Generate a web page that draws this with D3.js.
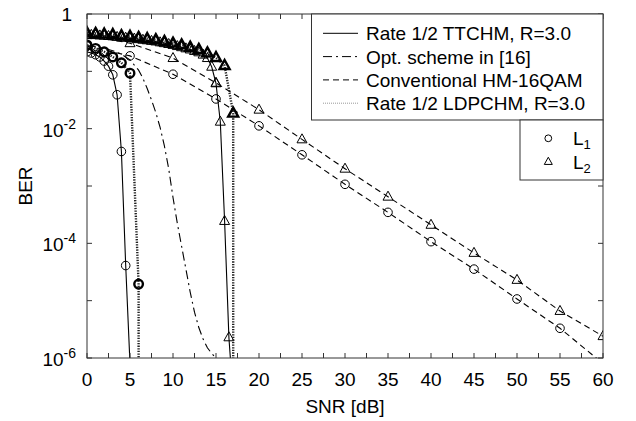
<!DOCTYPE html>
<html>
<head>
<meta charset="utf-8">
<script src="https://cdn.jsdelivr.net/npm/d3@7/dist/d3.min.js"></script>
<style>
  html, body { margin: 0; padding: 0; background: #fff; }
  svg { display: block; font-family: "Liberation Sans", Arial, Helvetica, sans-serif; }
</style>
</head>
<body>
<svg id="chart" width="636" height="421"></svg>
<script>
// ---------------- data ----------------
const snrConv = [0, 5, 10, 15, 20, 25, 30, 35, 40, 45, 50, 55, 60];
const convL1 = [0.275, 0.186, 0.089, 0.033, 0.0112, 3.5e-3, 1.07e-3, 3.47e-4, 1.07e-4, 3.55e-5, 1.07e-5, 3.3e-6, 8e-7];
const convL2 = [0.427, 0.309, 0.17, 0.063, 0.0214, 6.5e-3, 2.0e-3, 6.5e-4, 2.1e-4, 6.8e-5, 2.3e-5, 6.6e-6, 2.4e-6];

const snrTtchmL1 = [0, 0.5, 1, 1.5, 2, 2.5, 3, 3.5, 4, 4.5, 5];
const ttchmL1 = [0.219, 0.209, 0.195, 0.178, 0.151, 0.123, 0.087, 0.039, 4.0e-3, 4.1e-5, 7.9e-7];

const snrTtchmL2 = [0, 0.5, 1, 1.5, 2, 2.5, 3, 3.5, 4, 4.5, 5, 5.5, 6, 6.5, 7, 7.5, 8, 8.5,
                    9, 9.5, 10, 10.5, 11, 11.5, 12, 12.5, 13, 13.5, 14, 14.5, 15, 15.5, 16, 16.5, 17];
const ttchmL2 = [0.437, 0.432, 0.427, 0.422, 0.417, 0.412, 0.407, 0.398, 0.389, 0.385, 0.380, 0.372,
                 0.363, 0.355, 0.347, 0.339, 0.331, 0.320, 0.309, 0.299, 0.288, 0.275, 0.263, 0.251,
                 0.240, 0.226, 0.214, 0.195, 0.170, 0.120, 0.0617, 0.0132, 2.45e-4, 2.29e-6, 2.0e-7];

const snrLdpcL1 = [0, 1, 2, 3, 4, 5, 6, 6.001];
const ldpcL1 = [0.288, 0.251, 0.219, 0.178, 0.141, 0.093, 1.95e-5, 1e-12];

const snrLdpcL2 = [0, 1, 2, 3, 4, 5, 6, 7, 8, 9, 10, 11, 12, 13, 14, 15, 16, 17, 17.001];
const ldpcL2 = [0.468, 0.457, 0.447, 0.437, 0.417, 0.407, 0.389, 0.372, 0.355, 0.331, 0.309,
                0.288, 0.263, 0.240, 0.209, 0.174, 0.126, 0.0186, 1e-12];

const snrOpt = [0, 1, 2, 3, 4, 5, 6, 6.5, 7, 7.5, 8, 8.5, 9, 9.5, 10, 10.5, 11, 11.5, 12, 12.5,
                13, 13.5, 14, 14.5, 15, 16];
const optBer = [0.282, 0.269, 0.251, 0.229, 0.2, 0.158, 0.105, 0.0759, 0.0501, 0.0316, 0.0191,
                0.0105, 5.0e-3, 2.0e-3, 6.3e-4, 2.24e-4, 8.9e-5, 3.55e-5, 1.41e-5, 6.3e-6,
                3.4e-6, 2.14e-6, 1.51e-6, 1.2e-6, 1.0e-6, 7.6e-7];

const xTicks = [0, 2.5, 5, 7.5, 10, 12.5, 15, 17.5, 20, 22.5, 25, 27.5, 30, 32.5, 35, 37.5, 40,
                42.5, 45, 47.5, 50, 52.5, 55, 57.5, 60];
const xLabels = [0, 5, 10, 15, 20, 25, 30, 35, 40, 45, 50, 55, 60];
const yTicks = [1, 1e-1, 1e-2, 1e-3, 1e-4, 1e-5, 1e-6];
const yLabelExp = [0, -2, -4, -6];

const legendLines = ["Rate 1/2 TTCHM, R=3.0", "Opt. scheme in [16]", "Conventional HM-16QAM", "Rate 1/2 LDPCHM, R=3.0"];
const legendMarkers = ["1", "2"];

// ---------------- layout ----------------
const svg = d3.select("#chart");
const L = 87, R = 603, T = 14, B = 358;
const x = d3.scaleLinear().domain([0, 60]).range([L, R]);
const y = d3.scaleLog().domain([1e-6, 1]).range([B, T]);
const FONT = 19;

svg.append("defs").append("clipPath").attr("id", "clip")
  .append("rect").attr("x", L).attr("y", T).attr("width", R - L).attr("height", B - T);

const styles = {
  solid:   { dash: null, w: 1.1, color: "#000" },
  dashdot: { dash: "9,4,2,4", w: 1.1, color: "#000" },
  dashed:  { dash: "6,4", w: 1.1, color: "#000" },
  dotted:  { dash: "1.3,1.3", w: 2.4, color: "#222" }
};

const plot = svg.append("g").attr("clip-path", "url(#clip)");
const lineGen = d3.line().x(d => x(d[0])).y(d => y(d[1]));

function tri(size) {
  const h = size * 0.9;
  return `M0,${-h * 0.62} L${size / 2},${h * 0.38} L${-size / 2},${h * 0.38} Z`;
}

function drawSeries(snr, ber, style, marker, bold) {
  const pts = snr.map((s, i) => [s, ber[i]]);
  const st = styles[style];
  plot.append("path").datum(pts)
    .attr("d", lineGen)
    .attr("fill", "none")
    .attr("stroke", st.color)
    .attr("stroke-width", st.w)
    .attr("stroke-dasharray", st.dash);
  if (!marker) return;
  const g = plot.append("g");
  const mpts = pts.filter(d => d[1] > 1e-9);
  if (marker === "circle") {
    g.selectAll("circle").data(mpts).enter().append("circle")
      .attr("cx", d => x(d[0])).attr("cy", d => y(d[1])).attr("r", 4.3)
      .attr("fill", "none").attr("stroke", "#000").attr("stroke-width", bold ? 2.4 : 1);
  } else {
    g.selectAll("path").data(mpts).enter().append("path")
      .attr("d", tri(10))
      .attr("transform", d => `translate(${x(d[0])},${y(d[1])})`)
      .attr("fill", "none").attr("stroke", "#000").attr("stroke-width", bold ? 2.4 : 1)
      .attr("stroke-linejoin", "miter");
  }
}

drawSeries(snrConv, convL1, "dashed", "circle", false);
drawSeries(snrConv, convL2, "dashed", "triangle", false);
drawSeries(snrOpt, optBer, "dashdot", null, false);
drawSeries(snrTtchmL1, ttchmL1, "solid", "circle", false);
drawSeries(snrTtchmL2, ttchmL2, "solid", "triangle", false);
drawSeries(snrLdpcL1, ldpcL1, "dotted", "circle", true);
drawSeries(snrLdpcL2, ldpcL2, "dotted", "triangle", true);

// ---------------- axes ----------------
const axG = svg.append("g");
const TL = 5;
xTicks.forEach(t => {
  axG.append("line").attr("x1", x(t)).attr("x2", x(t)).attr("y1", B).attr("y2", B - TL).attr("stroke", "#333");
  axG.append("line").attr("x1", x(t)).attr("x2", x(t)).attr("y1", T).attr("y2", T + TL).attr("stroke", "#333");
});
yTicks.forEach(t => {
  axG.append("line").attr("x1", L).attr("x2", L + TL).attr("y1", y(t)).attr("y2", y(t)).attr("stroke", "#333");
  axG.append("line").attr("x1", R).attr("x2", R - TL).attr("y1", y(t)).attr("y2", y(t)).attr("stroke", "#333");
});
axG.append("rect").attr("x", L).attr("y", T).attr("width", R - L).attr("height", B - T)
  .attr("fill", "none").attr("stroke", "#333").attr("stroke-width", 1);

// x tick labels
axG.selectAll("text.xl").data(xLabels).enter().append("text")
  .attr("class", "xl")
  .attr("x", d => x(d)).attr("y", 386)
  .attr("text-anchor", "middle").attr("font-size", FONT).attr("fill", "#000")
  .text(d => d);

// y tick labels
yLabelExp.forEach(e => {
  const yy = y(Math.pow(10, e));
  if (e === 0) {
    axG.append("text").attr("x", 72).attr("y", yy + 7).attr("text-anchor", "end")
      .attr("font-size", FONT).text("1");
  } else {
    const t = axG.append("text").attr("x", 76).attr("y", yy + 8).attr("text-anchor", "end")
      .attr("font-size", FONT);
    t.append("tspan").text("10");
    t.append("tspan").attr("dy", -8).attr("font-size", 14).text(String(e).replace("-", "-"));
  }
});

// axis titles
svg.append("text").attr("x", (L + R) / 2).attr("y", 413).attr("text-anchor", "middle")
  .attr("font-size", FONT).text("SNR [dB]");
svg.append("text").attr("transform", `translate(32,${(T + B) / 2}) rotate(-90)`)
  .attr("text-anchor", "middle").attr("font-size", FONT).text("BER");

// ---------------- legends ----------------
const lg = svg.append("g");
const lx0 = 311.5, ly0 = T, lw = R - lx0, lh = 106;
lg.append("rect").attr("x", lx0).attr("y", ly0).attr("width", lw).attr("height", lh)
  .attr("fill", "#fff").attr("stroke", "#333").attr("stroke-width", 1);
const legStyles = ["solid", "dashdot", "dashed", "dotted"];
legendLines.forEach((txt, i) => {
  const cy = 33.3 + i * 23.3;
  const st = styles[legStyles[i]];
  lg.append("line").attr("x1", 323).attr("x2", 358).attr("y1", cy).attr("y2", cy)
    .attr("stroke", legStyles[i] === "dotted" ? "#999" : "#000")
    .attr("stroke-width", legStyles[i] === "dotted" ? 1 : 1)
    .attr("stroke-dasharray", legStyles[i] === "dotted" ? "1,1" : st.dash);
  lg.append("text").attr("x", 366).attr("y", cy + 7).attr("font-size", FONT).text(txt);
});

const l2x = 520, l2y = ly0 + lh;
lg.append("rect").attr("x", l2x).attr("y", l2y).attr("width", R - l2x).attr("height", 60)
  .attr("fill", "#fff").attr("stroke", "#333").attr("stroke-width", 1);
legendMarkers.forEach((sub, i) => {
  const cy = 138.3 + i * 23.4;
  if (i === 0) {
    lg.append("circle").attr("cx", 548.3).attr("cy", cy).attr("r", 3.4)
      .attr("fill", "none").attr("stroke", "#000");
  } else {
    lg.append("path").attr("d", tri(8)).attr("transform", `translate(548.3,${cy})`)
      .attr("fill", "none").attr("stroke", "#000");
  }
  const t = lg.append("text").attr("x", 573).attr("y", cy + 7).attr("font-size", FONT);
  t.append("tspan").text("L");
  t.append("tspan").attr("dy", 4).attr("font-size", 13).text(sub);
});
</script>
</body>
</html>
